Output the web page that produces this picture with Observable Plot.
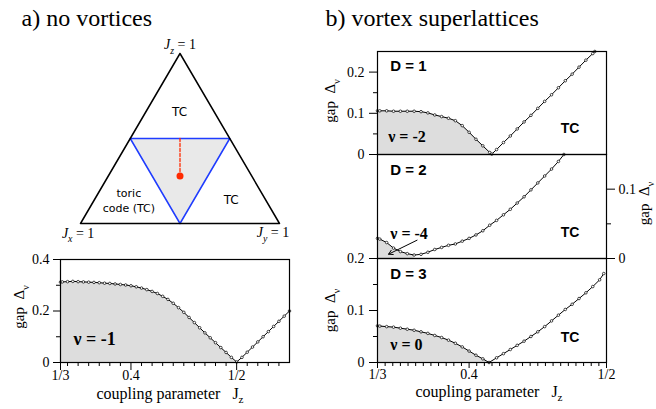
<!DOCTYPE html>
<html><head><meta charset="utf-8">
<script src="https://cdn.jsdelivr.net/npm/d3@7"></script>
<script src="https://cdn.jsdelivr.net/npm/@observablehq/plot@0.6"></script>
<style>
body{margin:0;background:#fff;}
#c{position:relative;width:656px;height:409px;background:#fff;}
#c svg{position:absolute;left:0;top:0;font-family:"Liberation Serif","DejaVu Serif",serif !important;font-size:14px !important;}
</style></head><body><div id="c"></div>
<script>
// ---------- data ----------
// panel a) no vortices : gap vs Jz
const aJz  = [1/3,0.335,0.34,0.345,0.35,0.355,0.36,0.365,0.37,0.375,0.38,0.385,0.39,0.395,0.40,0.405,0.41,0.415,0.42,0.425,0.43,0.435,0.44,0.445,0.45,0.455,0.46,0.465,0.47,0.475,0.48,0.485,0.49,0.495,0.50,0.505,0.51,0.515,0.52,0.525,0.53,0.535,0.54,0.545,0.55];
const aGap = [0.312,0.313,0.314,0.315,0.314,0.313,0.312,0.311,0.310,0.308,0.307,0.305,0.303,0.301,0.298,0.294,0.289,0.283,0.276,0.268,0.257,0.245,0.230,0.213,0.195,0.175,0.155,0.135,0.115,0.096,0.077,0.058,0.039,0.020,0.002,0.020,0.040,0.060,0.080,0.100,0.120,0.140,0.160,0.180,0.200];
// panel b) D = 1
const d1Jz  = [1/3,0.335,0.34,0.345,0.35,0.355,0.36,0.365,0.37,0.375,0.38,0.385,0.39,0.395,0.40,0.405,0.41,0.415,0.4165,0.42,0.425,0.43,0.435,0.44,0.445,0.45,0.455,0.46,0.465,0.47,0.475,0.48,0.485,0.49,0.4915];
const d1Gap = [0.106,0.106,0.106,0.105,0.105,0.105,0.105,0.104,0.101,0.096,0.092,0.088,0.082,0.070,0.054,0.037,0.021,0.005,0.001,0.012,0.029,0.045,0.062,0.079,0.095,0.112,0.129,0.145,0.162,0.179,0.195,0.212,0.229,0.245,0.250];
// D = 2
const d2Jz  = [1/3,0.335,0.34,0.345,0.35,0.355,0.36,0.365,0.37,0.375,0.38,0.385,0.39,0.395,0.40,0.405,0.41,0.415,0.42,0.425,0.43,0.435,0.44,0.445,0.45,0.455,0.46,0.465,0.469];
const d2Gap = [0.029,0.028,0.023,0.015,0.010,0.007,0.005,0.006,0.009,0.013,0.016,0.019,0.021,0.025,0.029,0.034,0.040,0.048,0.055,0.063,0.071,0.080,0.089,0.099,0.109,0.119,0.129,0.140,0.150];
// D = 3
const d3Jz  = [1/3,0.335,0.34,0.345,0.35,0.355,0.36,0.365,0.37,0.375,0.38,0.385,0.39,0.395,0.40,0.405,0.41,0.4145,0.42,0.425,0.43,0.435,0.44,0.445,0.45,0.455,0.46,0.465,0.47,0.475,0.48,0.485,0.49,0.495,0.498];
const d3Gap = [0.0705,0.070,0.069,0.068,0.066,0.064,0.062,0.059,0.056,0.052,0.048,0.043,0.037,0.030,0.022,0.014,0.007,0.000,0.009,0.017,0.025,0.033,0.041,0.050,0.059,0.069,0.080,0.091,0.102,0.112,0.123,0.134,0.146,0.159,0.171];

// phase diagram triangle (barycentric Jx, Jy, Jz)
const outerJx = [1,0,0,1,0], outerJy = [0,1,0,0,1], outerJz = [0,0,1,0,0];
const innerJx = [0.5,0,0.5,0.5,0], innerJy = [0,0.5,0.5,0,0.5], innerJz = [0.5,0.5,0,0.5,0.5];
const pathJz = [0.5, 0.28];

// tick values and labels
const xMajorVals = [1/3, 0.4, 0.5];
const xMajorLabels = ["1/3", "0.4", "1/2"];
const aXMinor = [0.34,0.35,0.36,0.37,0.38,0.39,0.41,0.42,0.43,0.44,0.45,0.46,0.47,0.48,0.49,0.51,0.52,0.53,0.54];
const bXMinor = d3.range(61, 90).filter(k => k !== 72).map(k => k / 180);
const aYTicks = [0, 0.2, 0.4], aYMinor = [0.1, 0.3];
const d1YTicks = [0, 0.1, 0.2], d1YMinor = [0.05, 0.15];
const d2YTicks = [0, 0.1], d2YMinor = [0.05];
const d3YTicks = [0, 0.1, 0.2], d3YMinor = [0.05, 0.15];
const panelNames = ["D = 1", "D = 2", "D = 3"];
const chernLabels = ["ν = -2", "ν = -4", "ν = 0"];
const aChern = "ν = -1";

// ---------- helpers ----------
const SERIF = "Liberation Serif, DejaVu Serif, serif";
const SANS = "Liberation Sans, Arial, sans-serif";
const TRI = "DejaVu Sans, sans-serif";
const zip = (xs, ys) => xs.map((x, i) => ({x, y: ys[i]}));
const bary = (jx, jy, jz) => jx.map((v, i) => ({Jx: v, Jy: jy[i], Jz: jz[i]}));
const fmtX = d => xMajorLabels[xMajorVals.findIndex(v => Math.abs(v - d) < 1e-9)];
const fmtY = d => String(d);
const argminX = data => d3.least(data, d => d.y).x;
const style = "background: transparent; overflow: visible; color: black;";

function curveMarks(data) {
  const end = argminX(data);
  return [
    Plot.areaY(data, {x: "x", y: "y", filter: d => d.x <= end + 1e-9, fill: "#dddddd"}),
    Plot.line(data, {x: "x", y: "y", stroke: "black", strokeWidth: 1}),
    Plot.dot(data, {x: "x", y: "y", r: 1.3, stroke: "black", fill: "white", strokeWidth: 0.7}),
    Plot.frame({stroke: "black", strokeWidth: 1.2})
  ];
}
const chern = (label, x, y) => Plot.text([label], {x, y, text: d => d, textAnchor: "start", fontFamily: SERIF, fontWeight: "bold", fontSize: 16});

function decorate(svg) {
  d3.select(svg).selectAll("text").each(function () {
    const t = this.textContent;
    if (!t.includes("_") || this.querySelector("tspan")) return;
    const italic = t.startsWith("§");
    const s = italic ? t.slice(1) : t;
    const m = s.match(/^(.*?)_(.)(.*)$/);
    if (!m) return;
    const fs = parseFloat(this.closest("g").getAttribute("font-size")) || 14;
    const sel = d3.select(this);
    sel.text(null);
    sel.append("tspan").text(m[1]).attr("font-style", italic ? "italic" : null);
    sel.append("tspan").text(m[2]).attr("font-size", (fs * 0.7) + "px").attr("dy", (fs * 0.3) + "px").attr("font-style", italic ? "italic" : null);
    if (m[3]) sel.append("tspan").text(m[3]).attr("dy", (-fs * 0.3) + "px");
  });
  return svg;
}

const container = document.getElementById("c");
const add = svg => container.appendChild(decorate(svg));

// ---------- triangle phase diagram + titles ----------
const tx = d => d.Jy + d.Jz / 2, ty = d => d.Jz;
const pathData = pathJz.map(z => ({Jx: (1 - z) / 2, Jy: (1 - z) / 2, Jz: z}));
add(Plot.plot({
  width: 656, height: 409, marginLeft: 80, marginRight: 377, marginTop: 53, marginBottom: 186,
  x: {domain: [0, 1], axis: null}, y: {domain: [0, 1], axis: null}, style,
  marks: [
    Plot.line(bary(innerJx, innerJy, innerJz), {x: tx, y: ty, fill: "#e9e9e9", stroke: "#1f3cff", strokeWidth: 1.5}),
    Plot.line(bary(outerJx, outerJy, outerJz), {x: tx, y: ty, stroke: "black", strokeWidth: 1.5}),
    Plot.line(pathData, {x: tx, y: ty, stroke: "#ff2a00", strokeWidth: 1.3, strokeDasharray: "3,2"}),
    Plot.dot(pathData.slice(1), {x: tx, y: ty, r: 3.5, fill: "#ff2a00"}),
    Plot.text(["§J_z = 1"], {x: 0.5, y: 1.05, text: d => d, fontFamily: SERIF, fontSize: 14}),
    Plot.text(["§J_x = 1"], {x: -0.012, y: -0.058, text: d => d, fontFamily: SERIF, fontSize: 14}),
    Plot.text(["§J_y = 1"], {x: 0.967, y: -0.055, text: d => d, fontFamily: SERIF, fontSize: 14}),
    Plot.text(["TC"], {x: 0.4975, y: 0.655, text: d => d, fontFamily: TRI, fontSize: 12}),
    Plot.text(["TC"], {x: 0.757, y: 0.139, text: d => d, fontFamily: TRI, fontSize: 12}),
    Plot.text(["toric\ncode (TC)"], {x: 0.243, y: 0.138, text: d => d, fontFamily: TRI, fontSize: 11, lineHeight: 1.3}),
    Plot.text(["a) no vortices"], {x: -0.2965, y: 1.206, text: d => d, textAnchor: "start", fontFamily: SERIF, fontSize: 24}),
    Plot.text(["b) vortex superlattices"], {x: 1.231, y: 1.206, text: d => d, textAnchor: "start", fontFamily: SERIF, fontSize: 24})
  ]
}));

// ---------- panel a: gap plot ----------
add(Plot.plot({
  width: 656, height: 409, marginLeft: 60, marginRight: 367, marginTop: 259, marginBottom: 47,
  x: {domain: [1/3, 0.55]}, y: {domain: [0, 0.4]}, style,
  marks: [
    ...curveMarks(zip(aJz, aGap)),
    Plot.axisY(aYTicks, {tickSize: 7, tickPadding: 4, tickFormat: fmtY, label: null, fontFamily: SERIF, fontSize: 14}),
    Plot.axisY(aYMinor, {tickSize: 4, tickFormat: () => "", label: null}),
    Plot.axisX(xMajorVals, {tickSize: 8, tickPadding: 0, tickFormat: fmtX, label: null, fontFamily: SERIF, fontSize: 14}),
    Plot.axisX(aXMinor, {tickSize: 4, tickFormat: () => "", label: null}),
    Plot.text([aChern], {x: 0.3456, y: 0.089, text: d => d, textAnchor: "start", fontFamily: SERIF, fontWeight: "bold", fontSize: 18}),
    Plot.text(["gap  Δ_ν"], {frameAnchor: "left", dx: -41, dy: -4, rotate: -90, textAnchor: "middle", lineAnchor: "middle", text: d => d, fontFamily: SERIF, fontSize: 15}),
    Plot.text(["coupling parameter\u00a0\u00a0\u00a0J_z"], {frameAnchor: "bottom", dx: -5, dy: 31, textAnchor: "middle", lineAnchor: "middle", text: d => d, fontFamily: SERIF, fontSize: 16})
  ]
}));

// ---------- panel b: three superlattices ----------
const bBase = {width: 656, height: 409, marginLeft: 377, marginRight: 50, style};
const bX = {domain: [1/3, 0.5]};

add(Plot.plot({
  ...bBase, marginTop: 51, marginBottom: 255,
  x: {...bX, axis: null}, y: {domain: [0, 0.25]},
  marks: [
    ...curveMarks(zip(d1Jz, d1Gap)),
    Plot.axisY(d1YTicks, {tickSize: 8, tickPadding: 5, tickFormat: fmtY, label: null, fontFamily: SERIF, fontSize: 14}),
    Plot.axisY(d1YMinor, {tickSize: 4, tickFormat: () => "", label: null}),
    Plot.text([panelNames[0]], {x: 0.3426, y: 0.2155, text: d => d, textAnchor: "start", fontFamily: SANS, fontWeight: "bold", fontSize: 15}),
    chern(chernLabels[0], 0.3411, 0.042),
    Plot.text(["TC"], {x: 0.4667, y: 0.062, text: d => d, textAnchor: "start", fontFamily: SANS, fontWeight: "bold", fontSize: 14}),
    Plot.text(["gap  Δ_ν"], {frameAnchor: "left", dx: -47, dy: -2, rotate: -90, textAnchor: "middle", lineAnchor: "middle", text: d => d, fontFamily: SERIF, fontSize: 15})
  ]
}));

add(Plot.plot({
  ...bBase, marginTop: 154, marginBottom: 151,
  x: {...bX, axis: null}, y: {domain: [0, 0.15]},
  marks: [
    ...curveMarks(zip(d2Jz, d2Gap)),
    Plot.axisY(d2YTicks, {anchor: "right", tickSize: 8, tickPadding: 4, tickFormat: fmtY, label: null, fontFamily: SERIF, fontSize: 14}),
    Plot.axisY(d2YMinor, {anchor: "right", tickSize: 4, tickFormat: () => "", label: null}),
    Plot.text([panelNames[1]], {x: 0.3426, y: 0.128, text: d => d, textAnchor: "start", fontFamily: SANS, fontWeight: "bold", fontSize: 15}),
    chern(chernLabels[1], 0.3426, 0.036),
    Plot.arrow([0], {x1: 0.3621, y1: 0.0264, x2: 0.3414, y2: 0.0062, stroke: "black", strokeWidth: 1, headLength: 7}),
    Plot.text(["TC"], {x: 0.4667, y: 0.038, text: d => d, textAnchor: "start", fontFamily: SANS, fontWeight: "bold", fontSize: 14}),
    Plot.text(["gap  Δ_ν"], {frameAnchor: "right", dx: 38, dy: -3, rotate: -90, textAnchor: "middle", lineAnchor: "middle", text: d => d, fontFamily: SERIF, fontSize: 15})
  ]
}));

add(Plot.plot({
  ...bBase, marginTop: 258, marginBottom: 47,
  x: bX, y: {domain: [0, 0.2]},
  marks: [
    ...curveMarks(zip(d3Jz, d3Gap)),
    Plot.axisY(d3YTicks, {tickSize: 8, tickPadding: 5, tickFormat: fmtY, label: null, fontFamily: SERIF, fontSize: 14}),
    Plot.axisY(d3YMinor, {tickSize: 4, tickFormat: () => "", label: null}),
    Plot.axisX(xMajorVals, {tickSize: 6, tickPadding: 1, tickFormat: fmtX, label: null, fontFamily: SERIF, fontSize: 14}),
    Plot.axisX(bXMinor, {tickSize: 4, tickFormat: () => "", label: null}),
    Plot.text([panelNames[2]], {x: 0.3426, y: 0.169, text: d => d, textAnchor: "start", fontFamily: SANS, fontWeight: "bold", fontSize: 15}),
    chern(chernLabels[2], 0.3426, 0.033),
    Plot.text(["TC"], {x: 0.4667, y: 0.049, text: d => d, textAnchor: "start", fontFamily: SANS, fontWeight: "bold", fontSize: 14}),
    Plot.text(["gap  Δ_ν"], {frameAnchor: "left", dx: -47, dy: 0, rotate: -90, textAnchor: "middle", lineAnchor: "middle", text: d => d, fontFamily: SERIF, fontSize: 15}),
    Plot.text(["coupling parameter\u00a0\u00a0\u00a0J_z"], {frameAnchor: "bottom", dx: -3, dy: 29, textAnchor: "middle", lineAnchor: "middle", text: d => d, fontFamily: SERIF, fontSize: 16})
  ]
}));
</script></body></html>
